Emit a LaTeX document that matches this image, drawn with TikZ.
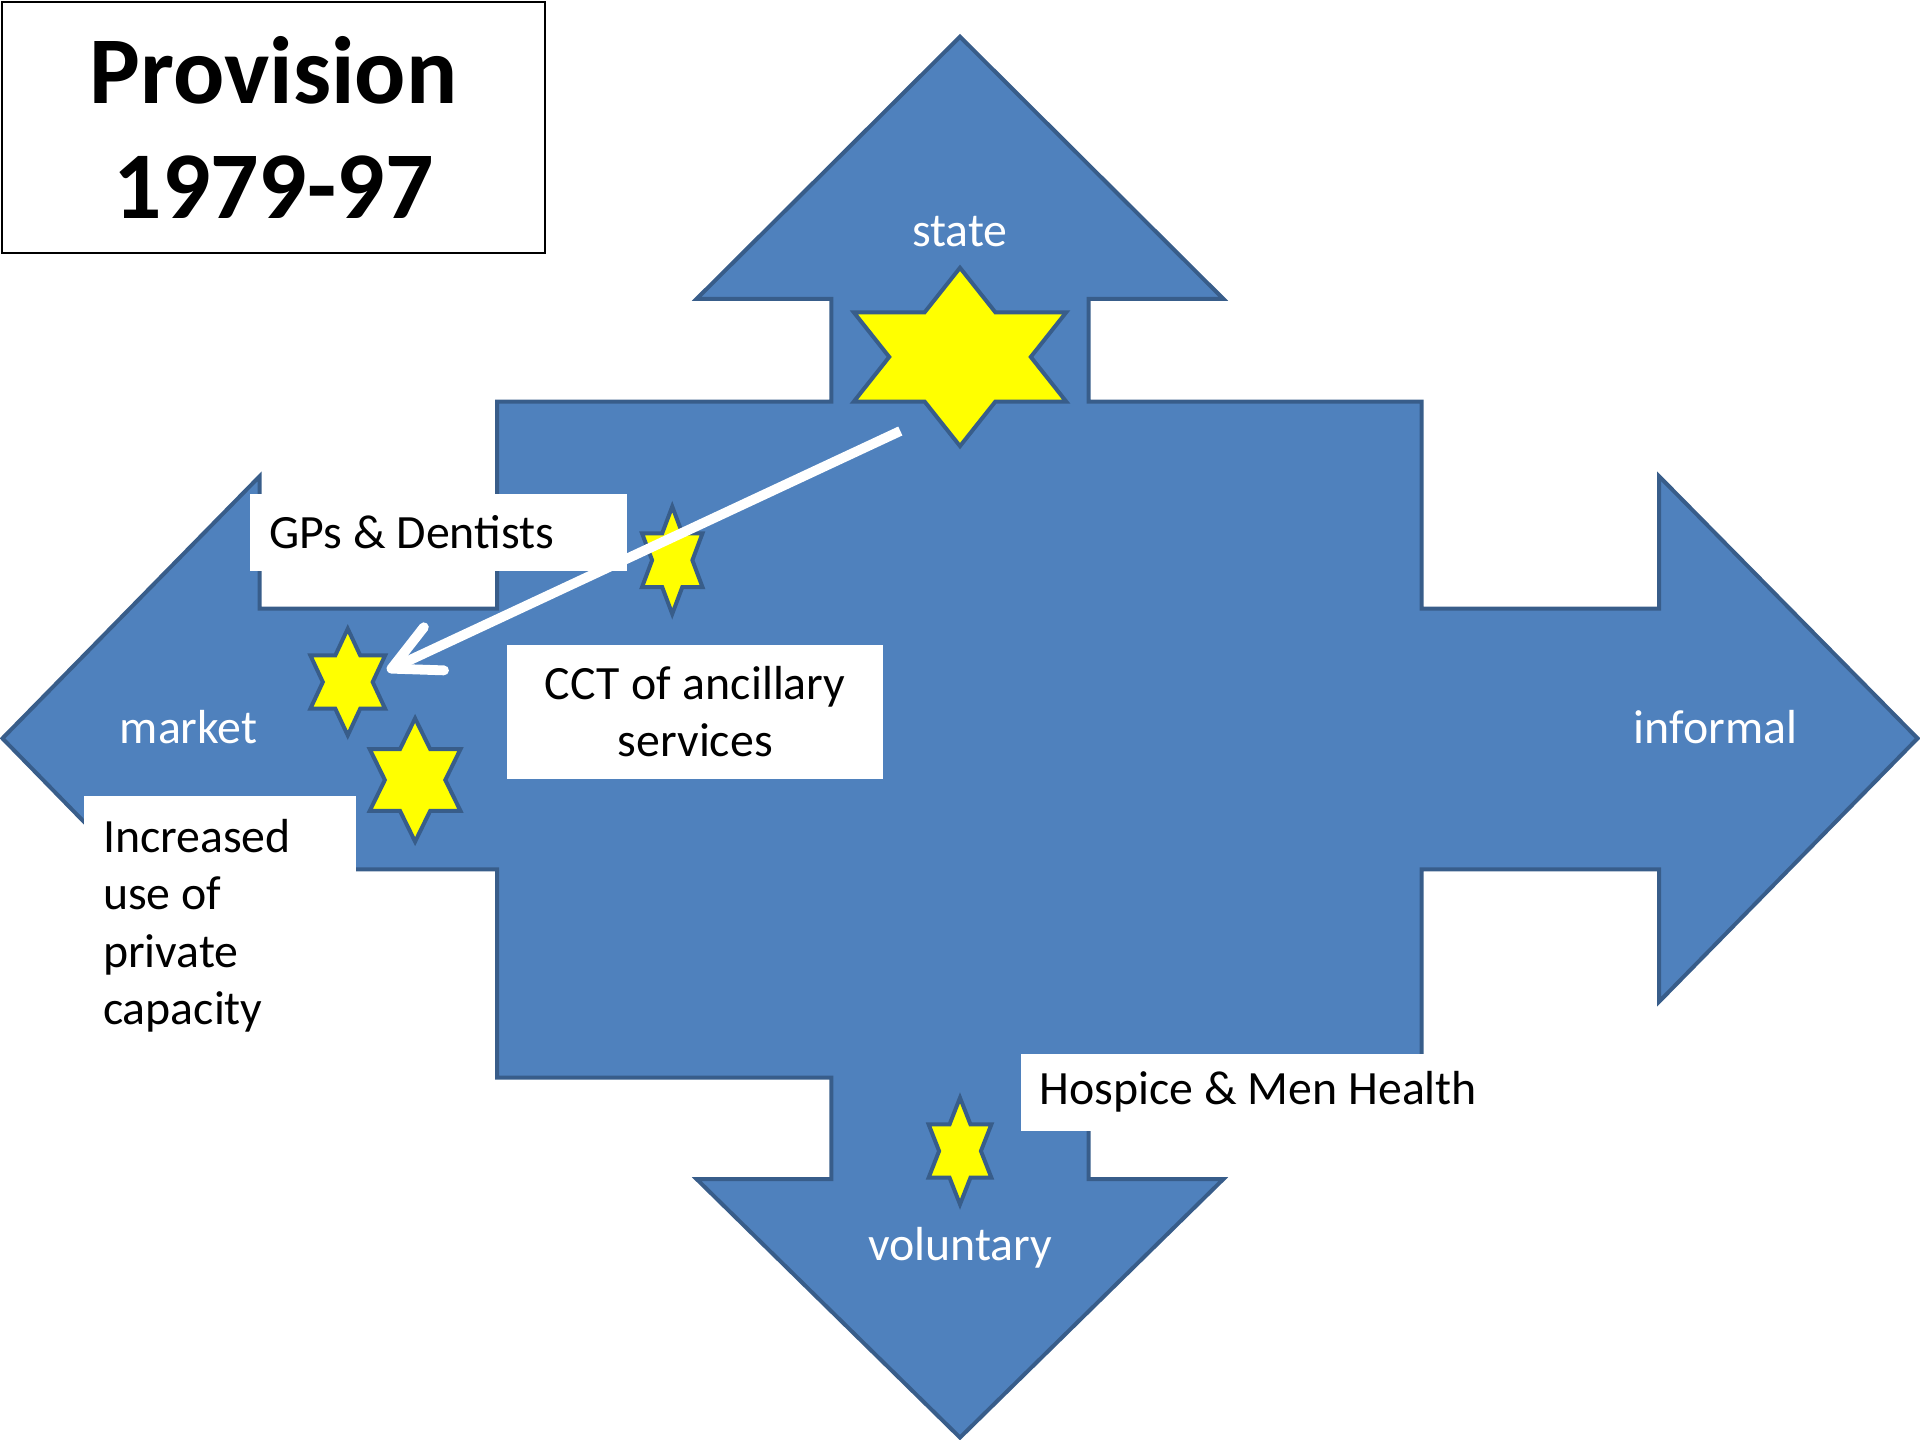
\documentclass[tikz,border=0pt]{standalone}
\usepackage{fontspec}
\setmainfont{Carlito}
\usepackage{tikz}
\usepackage{xcolor}
\usetikzlibrary{shapes.misc, positioning}
\usetikzlibrary{shapes.geometric, arrows.meta}
\definecolor{crossblue}{HTML}{4F81BD}
\definecolor{edgeblue}{HTML}{385D8A}
\definecolor{staryellow}{HTML}{FFFF00}
\newcommand\tightspace{\spaceskip=4.1pt plus 2pt minus 1pt\relax}
\tikzstyle{cross} = [fill=crossblue, draw=edgeblue, line width=1.5pt]
\tikzstyle{armtext} = [text=white, font=\fontsize{18}{21.6}\selectfont]
\tikzstyle{hexstar} = [star, star points=6, star point ratio=1.732, inner sep=0pt, fill=staryellow, draw=edgeblue, line width=1.5pt, transform shape]
\tikzstyle{note} = [rectangle, fill=white, anchor=north west, inner xsep=0.254cm, inner ysep=0pt, font=\fontsize{18}{21.6}\selectfont, execute at begin node=\tightspace]
\tikzstyle{titlebox} = [rectangle, draw=black, line width=0.8pt, anchor=north west, minimum width=7.18cm, minimum height=3.32cm, align=center, font=\fontsize{36}{43.2}\selectfont\bfseries]
\tikzstyle{arrow} = [white, line width=3.7pt, -{Straight Barb[length=0.62cm, width=0.63cm, round]}]

\begin{document}
\begin{tikzpicture}[x=0.0162cm, y=-0.0162cm]
    \useasboundingbox (0,0) rectangle (1568,1176);
    % the four-way arrow
    \draw [cross] (784,30) -- (999,244) -- (889,244) -- (889,328) -- (1161,328) -- (1161,497)
        -- (1355,497) -- (1355,389) -- (1566,603) -- (1355,818) -- (1355,710) -- (1161,710)
        -- (1161,880) -- (889,880) -- (889,963) -- (999,963) -- (784,1174) -- (569,963)
        -- (679,963) -- (679,880) -- (406,880) -- (406,710) -- (212,710) -- (212,818)
        -- (2,603) -- (212,389) -- (212,497) -- (406,497) -- (406,328) -- (679,328)
        -- (679,244) -- (569,244) -- cycle;
    \node (title) [titlebox] at (1,1) {Provision\\1979-97};
    \node (state) [armtext] at (784,189) {state};
    \node (market) [armtext] at (154,594) {market};
    \node (informal) [armtext] at (1401,594) {informal};
    \node (voluntary) [armtext] at (784,1019) {voluntary};
    % stars
    \node (statestar) [hexstar, minimum size=2.36cm, xscale=1.375] at (784,291.5) {};
    \node (gpstar) [hexstar, minimum size=1.42cm, xscale=0.65] at (549,457.5) {};
    \node (mktstar) [hexstar, minimum size=1.41cm, xscale=0.81] at (284,557) {};
    \node (privstar) [hexstar, minimum size=1.63cm, xscale=0.85] at (339,637) {};
    \node (volstar) [hexstar, minimum size=1.41cm, xscale=0.68] at (784,940) {};
    % white notes
    \node (gps) [note, minimum width=4.99cm, minimum height=1.02cm, text width=4.48cm, align=left] at (204,403) {GPs \& Dentists};
    \node (cct) [note, minimum width=4.97cm, minimum height=1.78cm, text width=4.46cm, align=center] at (414,526) {CCT of ancillary\\services};
    \node (private) [note, minimum width=3.60cm, minimum height=3.42cm, text width=3.09cm, align=left] at (68,650) {Increased\\use of\\private\\capacity};
    \node (hospice) [note, minimum width=6.29cm, minimum height=1.02cm, text width=6.0cm, align=left] at (833,860) {Hospice \& Men Health};
    \draw [arrow] ([xshift=-0.79cm,yshift=-0.98cm]statestar.center) -- ([xshift=0.52cm,yshift=0.15cm]mktstar.center);
\end{tikzpicture}
\end{document}
